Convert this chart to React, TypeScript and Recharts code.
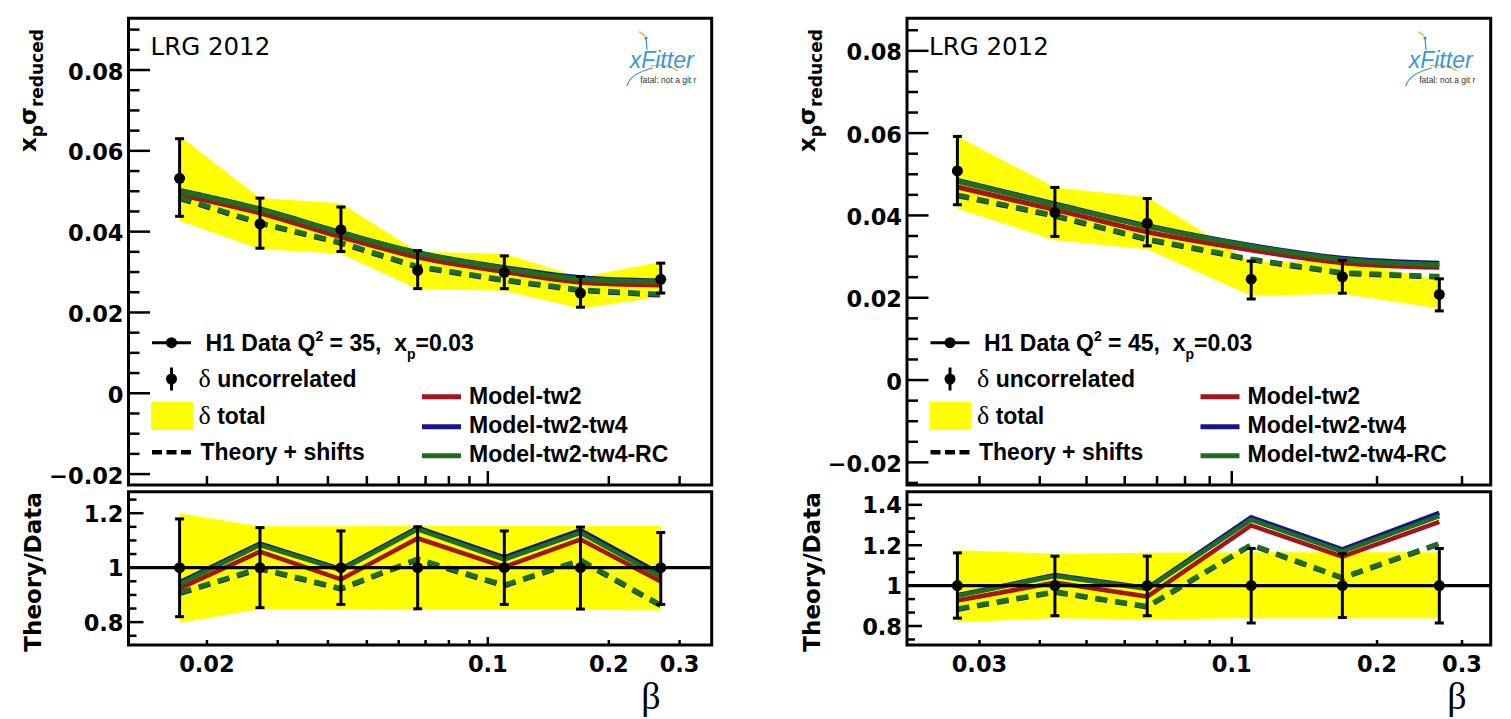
import React from 'react';
import {
  ComposedChart,
  Line,
  Area,
  Scatter,
  ErrorBar,
  XAxis,
  YAxis,
  ReferenceLine,
  ReferenceArea,
} from 'recharts';

// ================= DATA : left panel, Q^2 = 35, xp = 0.03 =================
const BETA_35 = [0.0171, 0.0271, 0.0431, 0.0669, 0.1099, 0.17, 0.2693];
const DATA_35 = [0.0532, 0.0419, 0.0405, 0.0304, 0.0299, 0.0248, 0.0282];
const UNC_DN_35 = [0.0094, 0.006, 0.0054, 0.0045, 0.004, 0.0035, 0.0034];
const UNC_UP_35 = [0.0098, 0.0064, 0.0056, 0.0049, 0.0041, 0.0041, 0.004];
const TOT_LO_35 = [0.0427, 0.0357, 0.0345, 0.0258, 0.0254, 0.021, 0.0238];
const TOT_HI_35 = [0.0637, 0.0483, 0.047, 0.035, 0.0345, 0.0287, 0.0325];
const TW2_35 = [0.0491, 0.0446, 0.0387, 0.0337, 0.0301, 0.0275, 0.0268];
const TW4_35 = [0.0502, 0.0456, 0.0398, 0.0348, 0.0311, 0.0286, 0.0278];
const RC_35 = [0.05, 0.0455, 0.0397, 0.0347, 0.0309, 0.0283, 0.0276];
const SHIFT_RC_35 = [0.0484, 0.0422, 0.0373, 0.0314, 0.0281, 0.0256, 0.0245];
const SHIFT_TW4_35 = [0.0482, 0.042, 0.0371, 0.0312, 0.0279, 0.0254, 0.0243];

const R_DATA_35 = [1, 1, 1, 1, 1, 1, 1];
const R_UNC_DN_35 = [0.18, 0.147, 0.135, 0.151, 0.135, 0.152, 0.135];
const R_UNC_UP_35 = [0.179, 0.147, 0.135, 0.15, 0.135, 0.149, 0.129];
const R_TOT_LO_35 = [0.798, 0.848, 0.848, 0.847, 0.847, 0.845, 0.843];
const R_TOT_HI_35 = [1.2, 1.152, 1.152, 1.153, 1.153, 1.153, 1.153];
const R_TW2_35 = [0.924, 1.059, 0.957, 1.108, 1.003, 1.104, 0.949];
const R_TW4_35 = [0.946, 1.088, 0.995, 1.147, 1.038, 1.138, 0.977];
const R_RC_35 = [0.94, 1.083, 0.991, 1.141, 1.03, 1.128, 0.967];
const R_SHIFT_RC_35 = [0.908, 0.998, 0.924, 1.032, 0.936, 1.028, 0.863];
const R_SHIFT_TW4_35 = [0.905, 0.995, 0.921, 1.029, 0.933, 1.025, 0.86];

// ================= DATA : right panel, Q^2 = 45, xp = 0.03 =================
const BETA_45 = [0.027, 0.043, 0.0668, 0.1097, 0.1695, 0.2692];
const DATA_45 = [0.0508, 0.0407, 0.0381, 0.0245, 0.0251, 0.0208];
const UNC_DN_45 = [0.0082, 0.0058, 0.0055, 0.0048, 0.004, 0.004];
const UNC_UP_45 = [0.0084, 0.0061, 0.006, 0.0044, 0.004, 0.0038];
const TOT_LO_45 = [0.0416, 0.034, 0.0318, 0.0204, 0.021, 0.0174];
const TOT_HI_45 = [0.0592, 0.0468, 0.0444, 0.0286, 0.0292, 0.0243];
const TW2_45 = [0.0469, 0.0414, 0.036, 0.0316, 0.0285, 0.0274];
const TW4_45 = [0.0485, 0.0428, 0.0375, 0.0327, 0.0296, 0.0284];
const RC_45 = [0.0483, 0.0426, 0.0373, 0.0325, 0.0293, 0.028];
const SHIFT_RC_45 = [0.045, 0.04, 0.0343, 0.0294, 0.0261, 0.0252];
const SHIFT_TW4_45 = [0.0448, 0.0398, 0.0341, 0.0292, 0.0259, 0.025];

const R_DATA_45 = [1, 1, 1, 1, 1, 1];
const R_UNC_DN_45 = [0.161, 0.149, 0.149, 0.185, 0.158, 0.185];
const R_UNC_UP_45 = [0.162, 0.146, 0.146, 0.184, 0.158, 0.184];
const R_TOT_LO_45 = [0.82, 0.838, 0.834, 0.838, 0.838, 0.838];
const R_TOT_HI_45 = [1.175, 1.158, 1.163, 1.165, 1.165, 1.165];
const R_TW2_45 = [0.926, 1.015, 0.946, 1.298, 1.143, 1.316];
const R_TW4_45 = [0.953, 1.052, 0.988, 1.339, 1.179, 1.36];
const R_RC_45 = [0.949, 1.048, 0.984, 1.326, 1.168, 1.344];
const R_SHIFT_RC_45 = [0.885, 0.97, 0.897, 1.203, 1.04, 1.209];
const R_SHIFT_TW4_45 = [0.882, 0.967, 0.894, 1.2, 1.037, 1.206];

// ================= AXES : ticks and labels =================
const X_TICKS_35 = [0.02, 0.03, 0.04, 0.05, 0.06, 0.07, 0.08, 0.09, 0.1, 0.2, 0.3];
const X_LABELS_35: [number, string][] = [[0.02, '0.02'], [0.1, '0.1'], [0.2, '0.2'], [0.3, '0.3']];
const X_TICKS_45 = [0.03, 0.04, 0.05, 0.06, 0.07, 0.08, 0.09, 0.1, 0.2, 0.3];
const X_LABELS_45: [number, string][] = [[0.03, '0.03'], [0.1, '0.1'], [0.2, '0.2'], [0.3, '0.3']];
const X_MAJOR = [0.1];

const TOP_Y_MAJOR = [-0.02, 0, 0.02, 0.04, 0.06, 0.08];
const TOP_Y_LABELS = ['\u22120.02', '0', '0.02', '0.04', '0.06', '0.08'];
const TOP_Y_MINOR_35 = [-0.015, -0.01, -0.005, 0.005, 0.01, 0.015, 0.025, 0.03, 0.035, 0.045, 0.05, 0.055, 0.065, 0.07, 0.075, 0.085, 0.09];
const TOP_Y_MINOR_45 = [-0.025, -0.015, -0.01, -0.005, 0.005, 0.01, 0.015, 0.025, 0.03, 0.035, 0.045, 0.05, 0.055, 0.065, 0.07, 0.075, 0.085];

const R_Y_MAJOR_35 = [0.8, 1, 1.2];
const R_Y_LABELS_35 = ['0.8', '1', '1.2'];
const R_Y_MINOR_35 = [0.75, 0.85, 0.9, 0.95, 1.05, 1.1, 1.15, 1.25];
const R_Y_MAJOR_45 = [0.8, 1, 1.2, 1.4];
const R_Y_LABELS_45 = ['0.8', '1', '1.2', '1.4'];
const R_Y_MINOR_45 = [0.7333, 0.8667, 0.9333, 1.0667, 1.1333, 1.2667, 1.3333];

const X_DOMAIN_35: [number, number] = [0.01276, 0.3606];
const X_DOMAIN_45: [number, number] = [0.02123, 0.344];
const TOP_Y_DOMAIN_35: [number, number] = [-0.0227, 0.0928];
const TOP_Y_DOMAIN_45: [number, number] = [-0.0255, 0.0879];
const R_Y_DOMAIN_35: [number, number] = [0.716, 1.279];
const R_Y_DOMAIN_45: [number, number] = [0.706, 1.465];

// ================= STYLE =================
const RED = '#a3141c';
const BLUE = '#16168c';
const GREEN = '#1e6e22';
const YELLOW = '#ffff00';
const TICK_FONT = "'DejaVu Sans', 'Liberation Sans', sans-serif";
const LEG_FONT = "'Liberation Sans', Arial, sans-serif";
const SERIF = "'Liberation Serif', 'DejaVu Serif', serif";

function buildRows(
  beta: number[], val: number[], dn: number[], up: number[], lo: number[], hi: number[],
  tw2: number[], tw4: number[], rc: number[], sRc: number[], sTw4: number[]
) {
  return beta.map((b, i) => ({
    beta: b,
    val: val[i],
    err: [dn[i], up[i]],
    band: [lo[i], hi[i]],
    tw2: tw2[i],
    tw4: tw4[i],
    rc: rc[i],
    sRc: sRc[i],
    sTw4: sTw4[i],
  }));
}

const ROWS_TOP_35 = buildRows(BETA_35, DATA_35, UNC_DN_35, UNC_UP_35, TOT_LO_35, TOT_HI_35, TW2_35, TW4_35, RC_35, SHIFT_RC_35, SHIFT_TW4_35);
const ROWS_R_35 = buildRows(BETA_35, R_DATA_35, R_UNC_DN_35, R_UNC_UP_35, R_TOT_LO_35, R_TOT_HI_35, R_TW2_35, R_TW4_35, R_RC_35, R_SHIFT_RC_35, R_SHIFT_TW4_35);
const ROWS_TOP_45 = buildRows(BETA_45, DATA_45, UNC_DN_45, UNC_UP_45, TOT_LO_45, TOT_HI_45, TW2_45, TW4_45, RC_45, SHIFT_RC_45, SHIFT_TW4_45);
const ROWS_R_45 = buildRows(BETA_45, R_DATA_45, R_UNC_DN_45, R_UNC_UP_45, R_TOT_LO_45, R_TOT_HI_45, R_TW2_45, R_TW4_45, R_RC_45, R_SHIFT_RC_45, R_SHIFT_TW4_45);

const near = (a: number, b: number) => Math.abs(a - b) < 1e-7;

type ChartProps = {
  left: number;
  top: number;
  width: number;
  height: number;
  yAxisWidth: number;
  marginTop: number;
  marginRight: number;
  xAxisHeight: number;
  xDomain: [number, number];
  yDomain: [number, number];
  xTicks: number[];
  xLabels: [number, string][] | null;
  yMajor: number[];
  yLabels: string[];
  yMinor: number[];
  rows: any[];
  ratio: boolean;
};

function PlotChart(p: ChartProps) {
  const yTicks = [...p.yMajor, ...p.yMinor].sort((a, b) => a - b);
  const yMajLen = p.ratio ? 15 : 21.5;
  const yMinLen = p.ratio ? 8 : 11;
  const xMajLen = p.ratio ? 8 : 14;
  const xMinLen = p.ratio ? 5 : 9;
  const lineW = p.ratio ? 4.5 : 5;
  const curve = p.ratio ? 'linear' : 'monotone';

  const xTick = (tp: any) => {
    const v = tp.payload.value;
    const major = X_MAJOR.some((m) => near(m, v));
    const len = major ? xMajLen : xMinLen;
    const lab = p.xLabels ? p.xLabels.find((l) => near(l[0], v)) : undefined;
    return (
      <g>
        <line x1={tp.x} x2={tp.x} y1={tp.y} y2={tp.y - len} stroke="#000" strokeWidth={2.5} />
        {lab && (
          <text x={tp.x} y={tp.y + 26.7} textAnchor="middle" fontFamily={TICK_FONT} fontWeight="bold" fontSize={22.5} fill="#000">
            {lab[1]}
          </text>
        )}
      </g>
    );
  };

  const yTick = (tp: any) => {
    const v = tp.payload.value;
    const mi = p.yMajor.findIndex((m) => near(m, v));
    const len = mi >= 0 ? yMajLen : yMinLen;
    return (
      <g>
        <line x1={tp.x} x2={tp.x + len} y1={tp.y} y2={tp.y} stroke="#000" strokeWidth={2.5} />
        {mi >= 0 && (
          <text x={tp.x - 5} y={tp.y + (p.ratio ? 8.5 : 9.5)} textAnchor="end" fontFamily={TICK_FONT} fontWeight="bold" fontSize={22.5} fill="#000">
            {p.yLabels[mi]}
          </text>
        )}
      </g>
    );
  };

  const dot = (sp: any) => <circle cx={sp.cx} cy={sp.cy} r={5.5} fill="#000" />;

  return (
    <div style={{ position: 'absolute', left: p.left, top: p.top, width: p.width, height: p.height }}>
      <ComposedChart
        width={p.width}
        height={p.height}
        data={p.rows}
        margin={{ top: p.marginTop, right: p.marginRight, bottom: 0, left: 0 }}
      >
        <XAxis
          dataKey="beta"
          type="number"
          scale="log"
          domain={p.xDomain}
          allowDataOverflow
          ticks={p.xTicks}
          interval={0}
          tickSize={0}
          tickMargin={0}
          axisLine={false}
          tickLine={false}
          height={p.xAxisHeight}
          tick={xTick}
        />
        <YAxis
          type="number"
          domain={p.yDomain}
          allowDataOverflow
          ticks={yTicks}
          interval={0}
          tickSize={0}
          tickMargin={0}
          axisLine={false}
          tickLine={false}
          width={p.yAxisWidth}
          tick={yTick}
        />
        <Area dataKey="band" type="linear" stroke="none" fill={YELLOW} fillOpacity={1} isAnimationActive={false} />
        <Line dataKey="tw2" type={curve as any} stroke={RED} strokeWidth={lineW} dot={false} activeDot={false} isAnimationActive={false} />
        <Line dataKey="tw4" type={curve as any} stroke={BLUE} strokeWidth={lineW} dot={false} activeDot={false} isAnimationActive={false} />
        <Line dataKey="rc" type={curve as any} stroke={GREEN} strokeWidth={lineW} dot={false} activeDot={false} isAnimationActive={false} />
        <Line dataKey="sTw4" type="linear" stroke={BLUE} strokeWidth={5} strokeDasharray="12 8" dot={false} activeDot={false} isAnimationActive={false} />
        <Line dataKey="sRc" type="linear" stroke={GREEN} strokeWidth={5} strokeDasharray="12 8" dot={false} activeDot={false} isAnimationActive={false} />
        {p.ratio && <ReferenceLine y={1} stroke="#000" strokeWidth={3.2} ifOverflow="visible" />}
        <Scatter dataKey="val" isAnimationActive={false} shape={dot}>
          <ErrorBar dataKey="err" direction="y" width={4.5} strokeWidth={3} stroke="#000" />
        </Scatter>
        <ReferenceArea
          x1={p.xDomain[0]}
          x2={p.xDomain[1]}
          y1={p.yDomain[0]}
          y2={p.yDomain[1]}
          fill="none"
          fillOpacity={0}
          stroke="#000"
          strokeWidth={3}
          ifOverflow="visible"
        />
      </ComposedChart>
    </div>
  );
}

// ================= overlay (legend, titles, logo) =================
function Logo({ fr }: { fr: number }) {
  return (
    <g>
      <path d={`M ${fr - 72.4} 31.7 L ${fr - 66.7} 36`} stroke="#f0b040" strokeWidth={1.5} fill="none" />
      <circle cx={fr - 65.7} cy={38} r={1.6} fill="#3a8fd0" />
      <path d={`M ${fr - 65.7} 38 L ${fr - 64.7} 50`} stroke="#3a8fd0" strokeWidth={1.2} fill="none" />
      <path d={`M ${fr - 60.7} 66 Q ${fr - 45} 63 ${fr - 33.7} 71`} stroke="#f0b040" strokeWidth={1.3} fill="none" />
      <path d={`M ${fr - 84.7} 86 Q ${fr - 82} 74 ${fr - 59} 68`} stroke="#3a8fd0" strokeWidth={1.2} fill="none" />
      <text x={fr - 82} y={68} fontFamily={LEG_FONT} fontStyle="italic" fontSize={23} fill="#3b98d2">
        xFitter
      </text>
      <text x={fr - 71.5} y={83} fontFamily={LEG_FONT} fontSize={8.5} fill="#333">
        fatal: not a git r
      </text>
    </g>
  );
}

function Decor({ fl, fr, q2, betaX }: { fl: number; fr: number; q2: string; betaX: number }) {
  const lf = { fontFamily: LEG_FONT, fontWeight: 'bold' as const, fontSize: 23, fill: '#000' };
  return (
    <g>
      {/* y-axis title of the main plot */}
      <text
        x={fl - 92.5}
        y={152}
        transform={`rotate(-90 ${fl - 92.5} 152)`}
        fontFamily={TICK_FONT}
        fontWeight="bold"
        fontSize={23}
        fill="#000"
      >
        <tspan>x</tspan>
        <tspan fontSize={17} dy={7}>p</tspan>
        <tspan dy={-7}>σ</tspan>
        <tspan fontSize={17} dy={7}>reduced</tspan>
      </text>
      {/* ratio title */}
      <text
        x={fl - 87.5}
        y={572}
        transform={`rotate(-90 ${fl - 87.5} 572)`}
        textAnchor="middle"
        fontFamily={TICK_FONT}
        fontWeight="bold"
        fontSize={23}
        fill="#000"
      >
        Theory/Data
      </text>
      {/* beta */}
      <text x={betaX} y={709} textAnchor="middle" fontFamily={SERIF} fontSize={38} fill="#000">
        β
      </text>
      {/* LRG label */}
      <text x={fl + 22} y={55} fontFamily={TICK_FONT} fontSize={24.5} fill="#000">
        LRG 2012
      </text>
      <Logo fr={fr} />
      {/* legend left column */}
      <line x1={fl + 23.5} x2={fl + 62.5} y1={342.7} y2={342.7} stroke="#000" strokeWidth={3} />
      <circle cx={fl + 43} cy={342.7} r={5.5} fill="#000" />
      <text x={fl + 77} y={350.7} {...lf} style={{ whiteSpace: 'pre' }}>
        <tspan>H1 Data Q</tspan>
        <tspan fontSize={14} dy={-10}>2</tspan>
        <tspan dy={10}>{` = ${q2},  x`}</tspan>
        <tspan fontSize={14} dy={8}>p</tspan>
        <tspan dy={-8}>=0.03</tspan>
      </text>
      <line x1={fl + 43} x2={fl + 43} y1={367.5} y2={390.5} stroke="#000" strokeWidth={3} />
      <circle cx={fl + 43} cy={379} r={5.5} fill="#000" />
      <text x={fl + 70} y={386.7} {...lf} style={{ whiteSpace: 'pre' }}>
        <tspan fontFamily={SERIF} fontWeight="normal" fontSize={26}>δ</tspan>
        <tspan> uncorrelated</tspan>
      </text>
      <rect x={fl + 22.5} y={402} width={42} height={28} fill={YELLOW} />
      <text x={fl + 70} y={423.5} {...lf} style={{ whiteSpace: 'pre' }}>
        <tspan fontFamily={SERIF} fontWeight="normal" fontSize={26}>δ</tspan>
        <tspan> total</tspan>
      </text>
      <line x1={fl + 23.5} x2={fl + 62.5} y1={452.3} y2={452.3} stroke="#000" strokeWidth={4.5} strokeDasharray="10 4.5" />
      <text x={fl + 72} y={460} {...lf}>
        Theory + shifts
      </text>
      {/* legend right column */}
      <line x1={fl + 293.5} x2={fl + 332.5} y1={396.7} y2={396.7} stroke={RED} strokeWidth={5} />
      <text x={fl + 340.5} y={404} {...lf}>Model-tw2</text>
      <line x1={fl + 293.5} x2={fl + 332.5} y1={426.7} y2={426.7} stroke={BLUE} strokeWidth={5} />
      <text x={fl + 340.5} y={433} {...lf}>Model-tw2-tw4</text>
      <line x1={fl + 293.5} x2={fl + 332.5} y1={455.7} y2={455.7} stroke={GREEN} strokeWidth={5} />
      <text x={fl + 340.5} y={462} {...lf}>Model-tw2-tw4-RC</text>
    </g>
  );
}

export default function App() {
  return (
    <div style={{ position: 'absolute', left: 0, top: 0, width: 1511, height: 719, background: '#fff', overflow: 'hidden' }}>
      {/* left panel */}
      <PlotChart
        left={0} top={0} width={740} height={490}
        yAxisWidth={128.5} marginTop={18.3} marginRight={28.3} xAxisHeight={5}
        xDomain={X_DOMAIN_35} yDomain={TOP_Y_DOMAIN_35}
        xTicks={X_TICKS_35} xLabels={null}
        yMajor={TOP_Y_MAJOR} yLabels={TOP_Y_LABELS} yMinor={TOP_Y_MINOR_35}
        rows={ROWS_TOP_35} ratio={false}
      />
      <PlotChart
        left={0} top={486} width={740} height={233}
        yAxisWidth={128.5} marginTop={5.7} marginRight={28.3} xAxisHeight={74}
        xDomain={X_DOMAIN_35} yDomain={R_Y_DOMAIN_35}
        xTicks={X_TICKS_35} xLabels={X_LABELS_35}
        yMajor={R_Y_MAJOR_35} yLabels={R_Y_LABELS_35} yMinor={R_Y_MINOR_35}
        rows={ROWS_R_35} ratio={true}
      />
      {/* right panel */}
      <PlotChart
        left={760} top={0} width={751} height={490}
        yAxisWidth={147} marginTop={18.3} marginRight={20.3} xAxisHeight={5}
        xDomain={X_DOMAIN_45} yDomain={TOP_Y_DOMAIN_45}
        xTicks={X_TICKS_45} xLabels={null}
        yMajor={TOP_Y_MAJOR} yLabels={TOP_Y_LABELS} yMinor={TOP_Y_MINOR_45}
        rows={ROWS_TOP_45} ratio={false}
      />
      <PlotChart
        left={760} top={486} width={751} height={233}
        yAxisWidth={147} marginTop={5.7} marginRight={20.3} xAxisHeight={74}
        xDomain={X_DOMAIN_45} yDomain={R_Y_DOMAIN_45}
        xTicks={X_TICKS_45} xLabels={X_LABELS_45}
        yMajor={R_Y_MAJOR_45} yLabels={R_Y_LABELS_45} yMinor={R_Y_MINOR_45}
        rows={ROWS_R_45} ratio={true}
      />
      <svg width={1511} height={719} style={{ position: 'absolute', left: 0, top: 0, pointerEvents: 'none' }}>
        <Decor fl={128.5} fr={711.7} q2="35" betaX={651} />
        <Decor fl={907} fr={1490.7} q2="45" betaX={1457} />
      </svg>
    </div>
  );
}
